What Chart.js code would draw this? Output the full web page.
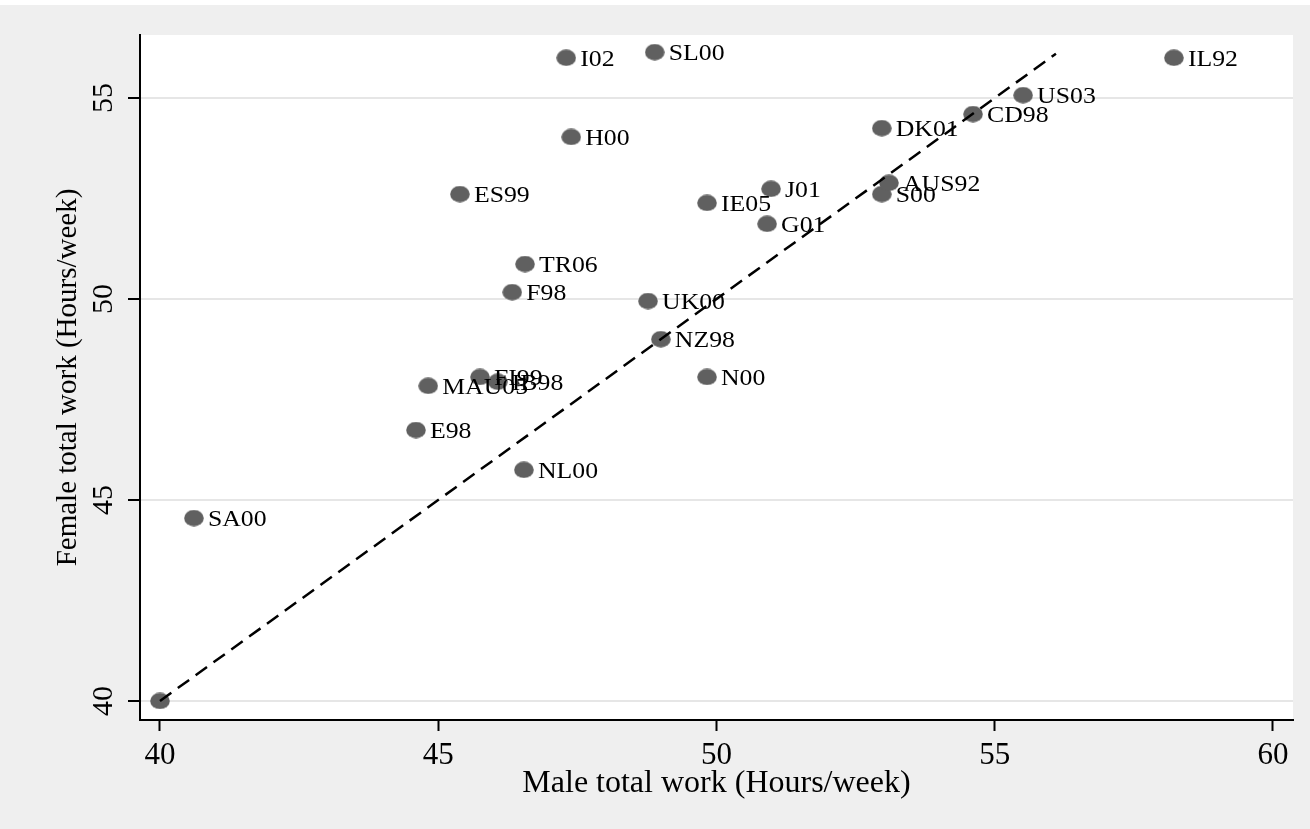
<!DOCTYPE html>
<html>
<head>
<meta charset="utf-8">
<script src="https://cdn.jsdelivr.net/npm/chart.js@4"></script>
<style>
  body { margin: 0; background: #fff; }
  #wrap { width: 1310px; height: 829px; }
</style>
</head>
<body>
<div id="wrap"><canvas id="workChart" width="1310" height="829"></canvas></div>
<script>
// country codes and total work hours per week
const countries = ["", "SA00", "E98", "MAU05", "FI99", "IB98", "NL00", "F98", "TR06", "ES99",
  "H00", "I02", "SL00", "UK00", "NZ98", "N00", "IE05", "J01", "G01", "S00",
  "AUS92", "DK01", "CD98", "US03", "IL92"];
const maleHours = [40, 40.61, 44.6, 44.82, 45.75, 46.07, 46.54, 46.33, 46.56, 45.39,
  47.39, 47.3, 48.89, 48.77, 49.0, 49.83, 49.83, 50.98, 50.91, 52.97,
  53.1, 52.97, 54.61, 55.51, 58.22];
const femaleHours = [40, 44.55, 46.74, 47.84, 48.06, 47.94, 45.75, 50.17, 50.87, 52.61,
  54.03, 56.0, 56.14, 49.95, 49.0, 48.06, 52.39, 52.74, 51.87, 52.61,
  52.89, 54.25, 54.6, 55.07, 56.0];

// equal-hours reference line
const equalLine = [40, 56.1];

const xTicks = [40, 45, 50, 55, 60];
const yTicks = [40, 45, 50, 55];

const SERIF = "'Liberation Serif', 'DejaVu Serif', serif";

const points = maleHours.map((m, i) => ({ x: m, y: femaleHours[i] }));
const linePts = equalLine.map(v => ({ x: v, y: v }));

// slightly wide dot, like the stata marker
const dot = document.createElement("canvas");
dot.width = 20;
dot.height = 17;
const dctx = dot.getContext("2d");
dctx.fillStyle = "#606060";
dctx.beginPath();
dctx.ellipse(10, 8.5, 9.8, 8.2, 0, 0, Math.PI * 2);
dctx.fill();

// gray page + white plot area
const bgPlugin = {
  id: "bg",
  beforeDraw(chart) {
    const { ctx, chartArea: a } = chart;
    ctx.save();
    ctx.fillStyle = "#efefef";
    ctx.fillRect(0, 5, chart.width, chart.height - 5);
    ctx.fillStyle = "#ffffff";
    ctx.fillRect(a.left, a.top, a.right - a.left, a.bottom - a.top);
    ctx.restore();
  }
};

// country labels next to the dots + rotated y tick labels
const labelPlugin = {
  id: "labels",
  afterDatasetsDraw(chart) {
    const ctx = chart.ctx;
    const meta = chart.getDatasetMeta(1);
    ctx.save();
    ctx.fillStyle = "#000";
    ctx.font = "23px " + SERIF;
    ctx.textAlign = "left";
    ctx.textBaseline = "alphabetic";
    meta.data.forEach((pt, i) => {
      if (!countries[i]) return;
      ctx.save();
      ctx.translate(pt.x + 14, pt.y + 8);
      ctx.scale(1.12, 1);
      ctx.fillText(countries[i], 0, 0);
      ctx.restore();
    });
    ctx.restore();
  },
  afterDraw(chart) {
    const ctx = chart.ctx;
    const y = chart.scales.y;
    ctx.save();
    ctx.fillStyle = "#000";
    ctx.font = "30px " + SERIF;
    ctx.textAlign = "center";
    ctx.textBaseline = "alphabetic";
    yTicks.forEach(v => {
      ctx.save();
      ctx.translate(112, y.getPixelForValue(v));
      ctx.rotate(-Math.PI / 2);
      ctx.fillText(String(v), 0, 0);
      ctx.restore();
    });
    ctx.restore();
  }
};

new Chart(document.getElementById("workChart"), {
  type: "scatter",
  data: {
    datasets: [
      {
        type: "line",
        data: linePts,
        borderColor: "#000",
        borderWidth: 2.5,
        borderDash: [14, 8],
        pointRadius: 0,
        fill: false,
        order: 0
      },
      {
        data: points,
        pointStyle: dot,
        pointRadius: 9,
        order: 1
      }
    ]
  },
  options: {
    responsive: false,
    animation: false,
    devicePixelRatio: 1,
    layout: { padding: { top: 35, right: 17, left: 0, bottom: 0 } },
    plugins: {
      legend: { display: false },
      tooltip: { enabled: false }
    },
    scales: {
      x: {
        type: "linear",
        min: 39.641,
        max: 60.36,
        afterBuildTicks: s => { s.ticks = xTicks.map(v => ({ value: v })); },
        afterFit: s => { s.height = 109; },
        border: { display: true, color: "#000", width: 2 },
        grid: {
          drawOnChartArea: false,
          tickLength: 11,
          tickColor: "#000",
          tickWidth: 2
        },
        ticks: {
          color: "#000",
          padding: 6,
          maxRotation: 0,
          font: { family: SERIF, size: 31 }
        },
        title: {
          display: true,
          text: "Male total work (Hours/week)",
          color: "#000",
          font: { family: SERIF, size: 32 },
          padding: { top: 0, bottom: 26 }
        }
      },
      y: {
        type: "linear",
        min: 39.527,
        max: 56.567,
        afterBuildTicks: s => { s.ticks = yTicks.map(v => ({ value: v })); },
        afterFit: s => { s.width = 140; },
        border: { display: true, color: "#000", width: 2 },
        grid: {
          color: "#e6e6e6",
          lineWidth: 2,
          tickLength: 12,
          tickColor: "#000",
          tickWidth: 2
        },
        ticks: { display: false },
        title: {
          display: true,
          text: "Female total work (Hours/week)",
          color: "#000",
          font: { family: SERIF, size: 29 },
          padding: { top: 51, bottom: 0 }
        }
      }
    }
  },
  plugins: [bgPlugin, labelPlugin]
});
</script>
</body>
</html>
